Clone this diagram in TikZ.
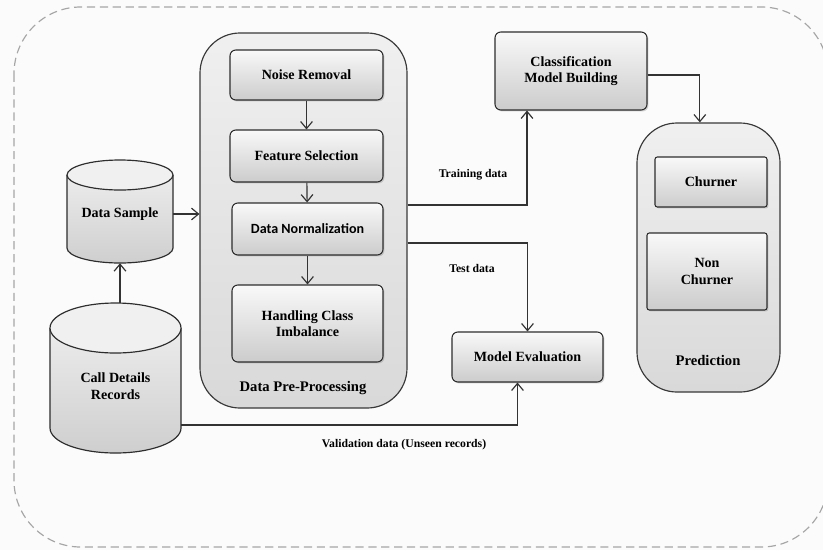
\documentclass[tikz,border=0pt]{standalone}
\usepackage{fontspec}
\setmainfont{Liberation Serif}
\newfontfamily\normfont{Carlito}
\usetikzlibrary{shadows,arrows.meta,positioning}

\tikzset{
  stepbox/.style={draw=gray!35!black, line width=0.9pt, rounded corners=5pt,
    top color=gray!5, bottom color=gray!40, align=center,
    drop shadow={shadow xshift=1.2pt, shadow yshift=-1.2pt, opacity=0.35},
    font=\bfseries\fontsize{12}{14}\selectfont, inner sep=2pt},
  group/.style={draw=gray!45!black, line width=1pt, rounded corners=1.2cm,
    top color=gray!12, bottom color=gray!30},
  storebody/.style={draw=gray!35!black, line width=1pt, top color=gray!15, bottom color=gray!38},
  storetop/.style={draw=gray!35!black, line width=1pt, fill=gray!12},
  storetext/.style={align=center, font=\bfseries\fontsize{12}{14}\selectfont, inner sep=0pt},
  link/.style={draw=gray!40!black, line width=1pt, -{Straight Barb[length=6pt,width=10pt]}},
  flowlabel/.style={font=\bfseries\fontsize{10}{12}\selectfont}
}

\begin{document}
\begin{tikzpicture}[x=0.03cm, y=-0.03cm]
  \useasboundingbox[fill=gray!3] (0,0) rectangle (823,550);
  % outer frame
  \draw[gray!70, line width=1pt, dash pattern=on 7pt off 4pt, rounded corners=2cm]
    (14,7) rectangle (828,547);

  % containers
  \node[group, minimum width=6.21cm, minimum height=11.25cm] (pre) at (303.5,220.5) {};
  \node[group, minimum width=4.29cm, minimum height=8.07cm] (pred) at (708.5,257.5) {};

  % data stores
  \draw[storebody] (67,175) -- (67,248)
    arc[start angle=180, end angle=360, x radius=1.59cm, y radius=0.45cm] -- (173,175);
  \draw[storetop] (120,175) ellipse[x radius=1.59cm, y radius=0.45cm];
  \node[minimum width=3.18cm, minimum height=3.09cm] (sample) at (120,211.5) {};
  \node[storetext] (sampletext) at (120,214) {Data Sample};

  \draw[storebody] (50,328) -- (50,428)
    arc[start angle=180, end angle=360, x radius=1.965cm, y radius=0.75cm] -- (181,328);
  \draw[storetop] (115.5,328) ellipse[x radius=1.965cm, y radius=0.75cm];
  \node[minimum width=3.93cm, minimum height=4.5cm] (calls) at (115.5,378) {};
  \node[storetext] (callstext) at (115.5,386) {Call Details\\Records};

  % pre-processing steps
  \node[stepbox, minimum width=4.59cm, minimum height=1.5cm] (noise) at (306.5,75) {Noise Removal};
  \node[stepbox, minimum width=4.59cm, minimum height=1.56cm] (feature) at (306.5,156) {Feature Selection};
  \node[stepbox, minimum width=4.53cm, minimum height=1.56cm, font=\normfont\bfseries\fontsize{12}{14}\selectfont] (norm) at (307.5,229) {Data Normalization};
  \node[stepbox, minimum width=4.53cm, minimum height=2.31cm] (imbalance) at (307.5,323.5) {Handling Class\\Imbalance};
  \node[font=\bfseries\fontsize{12.5}{14}\selectfont] (prelabel) at (303,388) {Data Pre-Processing};

  % model
  \node[stepbox, minimum width=4.56cm, minimum height=2.34cm] (build) at (571,71) {Classification\\Model Building};
  \node[stepbox, minimum width=4.53cm, minimum height=1.5cm] (eval) at (527.5,357) {Model Evaluation};

  % prediction
  \node[stepbox, rounded corners=2pt, minimum width=3.36cm, minimum height=1.5cm] (churner) at (711,182) {Churner};
  \node[stepbox, rounded corners=2pt, minimum width=3.6cm, minimum height=2.31cm] (nonchurner) at (707,271.5) {Non\\Churner};
  \node[font=\bfseries\fontsize{12.5}{14}\selectfont] (predlabel) at (708,360) {Prediction};

  % flow
  \draw[link] (calls.north -| sample) -- (sample.south);
  \draw[link] (sample.east |- 0,214) -- (pre.west |- 0,214);
  \draw[link] (noise) -- (feature);
  \draw[link] (feature) -- (norm);
  \draw[link] (norm.south -| imbalance) -- (imbalance.north);
  \draw[link] (pre.east |- 0,205) -| ([xshift=-1.32cm]build.south);
  \draw[link] (pre.east |- 0,243) -| (eval.north);
  \draw[link] ([yshift=-1.41cm]calls.east) -| ([xshift=-0.3cm]eval.south);
  \draw[link] (build.east |- 0,75) -| ([xshift=-0.26cm]pred.north);

  \node[flowlabel] (train) at (473,175) {Training data};
  \node[flowlabel] (test) at (472,268) {Test data};
  \node[flowlabel] (valid) at (404,445) {Validation data (Unseen records)};
\end{tikzpicture}
\end{document}
